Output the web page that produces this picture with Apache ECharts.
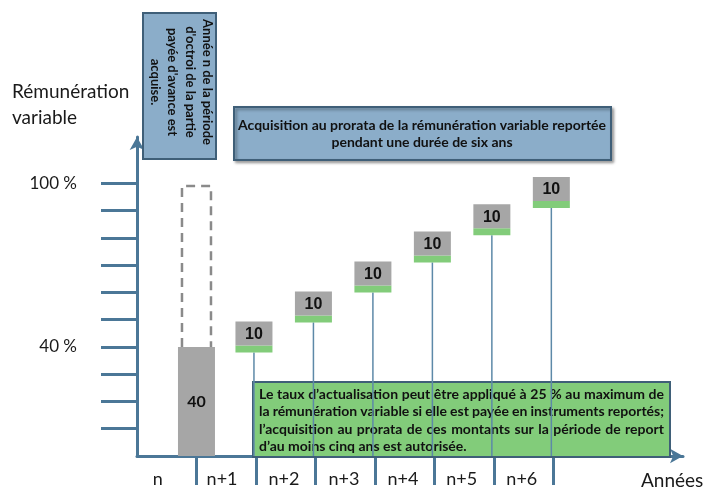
<!DOCTYPE html>
<html>
<head>
<meta charset="utf-8">
<script src="https://cdn.jsdelivr.net/npm/echarts@6/dist/echarts.min.js"></script>
<style>
  html, body { margin: 0; padding: 0; background: #fff; }
  #chart { width: 707px; height: 492px; }
</style>
</head>
<body>
<div id="chart"></div>
<script>
// annees (bandes de l'axe x) et position des libelles
const years = ['n', 'n+1', 'n+2', 'n+3', 'n+4', 'n+5', 'n+6'];
const yearLabelPos = [0.35, 1.43, 2.47, 3.48, 4.47, 5.46, 6.47];
const yearTicks = [1, 2, 3, 4, 5, 6, 7];

// partie payee d'avance (annee n)
const upfrontPos = 1;
const upfrontShare = 40;
const upfrontTarget = 99;

// tranches reportees
const deferredPos = [2, 3, 4, 5, 6, 7];
const deferredShare = [10, 10, 10, 10, 10, 10];
const deferredLevel = [38, 49, 60, 71, 81, 91];

// axe y
const yTicks = [10, 20, 30, 40, 50, 60, 70, 80, 90, 100];
const yLabels = [40, 100];

const noteLines = [
    'Le taux d\u2019actualisation peut être appliqué à 25 % au maximum de',
    'la rémunération variable si elle est payée en instruments reportés;',
    'l\u2019acquisition au prorata de ces montants sur la période de report',
    'd\u2019au moins cinq ans est autorisée.'
];

const axisColor = '#4b7797';
const grey = '#a6a6a6';
const green = '#82cc7a';
const boxBlue = '#8badc9';
const boxBorder = '#3f5f78';
const font = 'Lato, "Open Sans", sans-serif';

// texte justifie de l'encadre vert (mot par mot)
function justifiedNote(x, y, width, lineH, size) {
    const ctx = document.createElement('canvas').getContext('2d');
    ctx.font = 'bold ' + size + 'px ' + font;
    const out = [];
    noteLines.forEach(function (line, li) {
        const words = line.split(' ');
        const last = li === noteLines.length - 1;
        let gap = ctx.measureText(' ').width;
        if (!last) {
            const sum = words.reduce(function (s, w) { return s + ctx.measureText(w).width; }, 0);
            gap = (width - sum) / (words.length - 1);
        }
        let cx = x;
        words.forEach(function (w) {
            out.push({
                type: 'text', z: 51, x: cx, y: y + li * lineH,
                style: {
                    text: w, align: 'left', verticalAlign: 'middle',
                    fontSize: size, fontWeight: 'bold', fontFamily: font, fill: '#111'
                }
            });
            cx += ctx.measureText(w).width + gap;
        });
    });
    return out;
}

const chart = echarts.init(document.getElementById('chart'));

const option = {
    animation: false,
    grid: { left: 137, right: 24, top: 137, bottom: 36 },
    xAxis: {
        type: 'value',
        min: 0,
        max: 9.18,
        splitLine: { show: false },
        axisLine: {
            show: true,
            symbol: ['none', 'arrow'],
            symbolSize: [11, 13],
            lineStyle: { color: axisColor, width: 3 }
        },
        axisTick: {
            show: true,
            customValues: yearTicks,
            length: 29,
            lineStyle: { color: axisColor, width: 3 }
        },
        axisLabel: {
            customValues: yearLabelPos,
            margin: 14,
            fontSize: 18,
            fontFamily: font,
            color: '#1a1a1a',
            formatter: function (v) {
                const i = yearLabelPos.indexOf(v);
                return i >= 0 ? years[i] : '';
            }
        }
    },
    yAxis: {
        type: 'value',
        min: 0,
        max: 117,
        splitLine: { show: false },
        axisLine: {
            show: true,
            symbol: ['none', 'arrow'],
            symbolSize: [11, 13],
            lineStyle: { color: axisColor, width: 3 }
        },
        axisTick: {
            show: true,
            customValues: yTicks,
            length: 36,
            lineStyle: { color: axisColor, width: 3 }
        },
        axisLabel: {
            customValues: yLabels,
            margin: 60,
            fontSize: 17,
            fontFamily: font,
            color: '#1a1a1a',
            formatter: function (v) { return v + ' %'; }
        }
    },
    series: [
        {
            // cadre pointille jusqu'a 100 %
            type: 'custom',
            z: 3,
            data: [[upfrontPos, upfrontShare, upfrontTarget]],
            renderItem: function (params, api) {
                const bottom = api.coord([api.value(0), api.value(1)]);
                const top = api.coord([api.value(0), api.value(2)]);
                const half = 14.5;
                return {
                    type: 'polyline',
                    shape: {
                        points: [
                            [bottom[0] - half, bottom[1]],
                            [top[0] - half, top[1]],
                            [top[0] + half, top[1]],
                            [bottom[0] + half, bottom[1]]
                        ]
                    },
                    style: { stroke: '#8a8a8a', lineWidth: 2.5, lineDash: [9, 6], fill: null }
                };
            }
        },
        {
            type: 'bar',
            z: 4,
            barWidth: 37,
            data: [[upfrontPos, upfrontShare]],
            itemStyle: { color: grey },
            label: {
                show: true,
                position: 'inside',
                fontSize: 16,
                fontWeight: 'bold',
                fontFamily: font,
                color: '#111',
                formatter: function (p) { return p.value[1]; }
            }
        },
        {
            // tranches reportees : tige + bandeau vert + case grise
            type: 'custom',
            z: 60,
            data: deferredPos.map(function (x, i) { return [x, deferredLevel[i], deferredShare[i]]; }),
            renderItem: function (params, api) {
                const base = api.coord([api.value(0), api.value(1)]);
                const zero = api.coord([api.value(0), 0]);
                const w = 37, greenH = 7, greyH = 24;
                const left = base[0] - w / 2 - 2;
                return {
                    type: 'group',
                    children: [
                        {
                            type: 'line',
                            shape: { x1: base[0] - 2, y1: base[1], x2: base[0] - 2, y2: zero[1] },
                            style: { stroke: '#5d89a8', lineWidth: 1.5 }
                        },
                        {
                            type: 'rect',
                            shape: { x: left, y: base[1] - greenH, width: w, height: greenH },
                            style: { fill: green }
                        },
                        {
                            type: 'rect',
                            shape: { x: left, y: base[1] - greenH - greyH, width: w, height: greyH },
                            style: { fill: grey }
                        },
                        {
                            type: 'text',
                            x: left + w / 2,
                            y: base[1] - greenH - greyH / 2 + 1,
                            style: {
                                text: String(api.value(2)),
                                align: 'center',
                                verticalAlign: 'middle',
                                fontSize: 16,
                                fontWeight: 'bold',
                                fontFamily: '"Liberation Sans", Arial, sans-serif',
                                fill: '#111'
                            }
                        }
                    ]
                };
            }
        }
    ],
    graphic: [
        {
            type: 'text',
            left: 12,
            top: 79,
            style: {
                text: 'Rémunération\nvariable',
                fontSize: 19,
                lineHeight: 26,
                fontFamily: font,
                fill: '#1a1a1a'
            }
        },
        {
            type: 'text',
            left: 641,
            top: 471,
            style: { text: 'Années', fontSize: 19, fontFamily: font, fill: '#1a1a1a' }
        },
        {
            type: 'rect',
            z: 50,
            shape: { x: 143, y: 13, width: 73, height: 146 },
            style: { fill: boxBlue, stroke: boxBorder, lineWidth: 2 }
        },
        {
            type: 'text',
            z: 51,
            x: 181,
            y: 82,
            rotation: -Math.PI / 2,
            style: {
                text: 'Année n de la période\nd\'octroi de la partie\npayée d\'avance est\nacquise.',
                align: 'center',
                verticalAlign: 'middle',
                fontSize: 13,
                lineHeight: 17.5,
                fontWeight: 'bold',
                fontFamily: font,
                fill: '#111'
            }
        },
        {
            type: 'rect',
            z: 50,
            shape: { x: 234, y: 107, width: 377, height: 53 },
            style: {
                fill: boxBlue, stroke: boxBorder, lineWidth: 2,
                shadowBlur: 3, shadowOffsetX: 2, shadowOffsetY: 2, shadowColor: 'rgba(0,0,0,0.35)'
            }
        },
        {
            type: 'text',
            z: 51,
            x: 422,
            y: 134,
            style: {
                text: 'Acquisition au prorata de la rémunération variable reportée\npendant une durée de six ans',
                align: 'center',
                verticalAlign: 'middle',
                fontSize: 14,
                lineHeight: 17,
                fontWeight: 'bold',
                fontFamily: font,
                fill: '#111'
            }
        },
        {
            type: 'rect',
            z: 50,
            shape: { x: 253, y: 382, width: 417, height: 75 },
            style: { fill: green, stroke: boxBorder, lineWidth: 2 }
        }
    ].concat(justifiedNote(259, 394, 405, 17.5, 14))
};

chart.setOption(option);
</script>
</body>
</html>
